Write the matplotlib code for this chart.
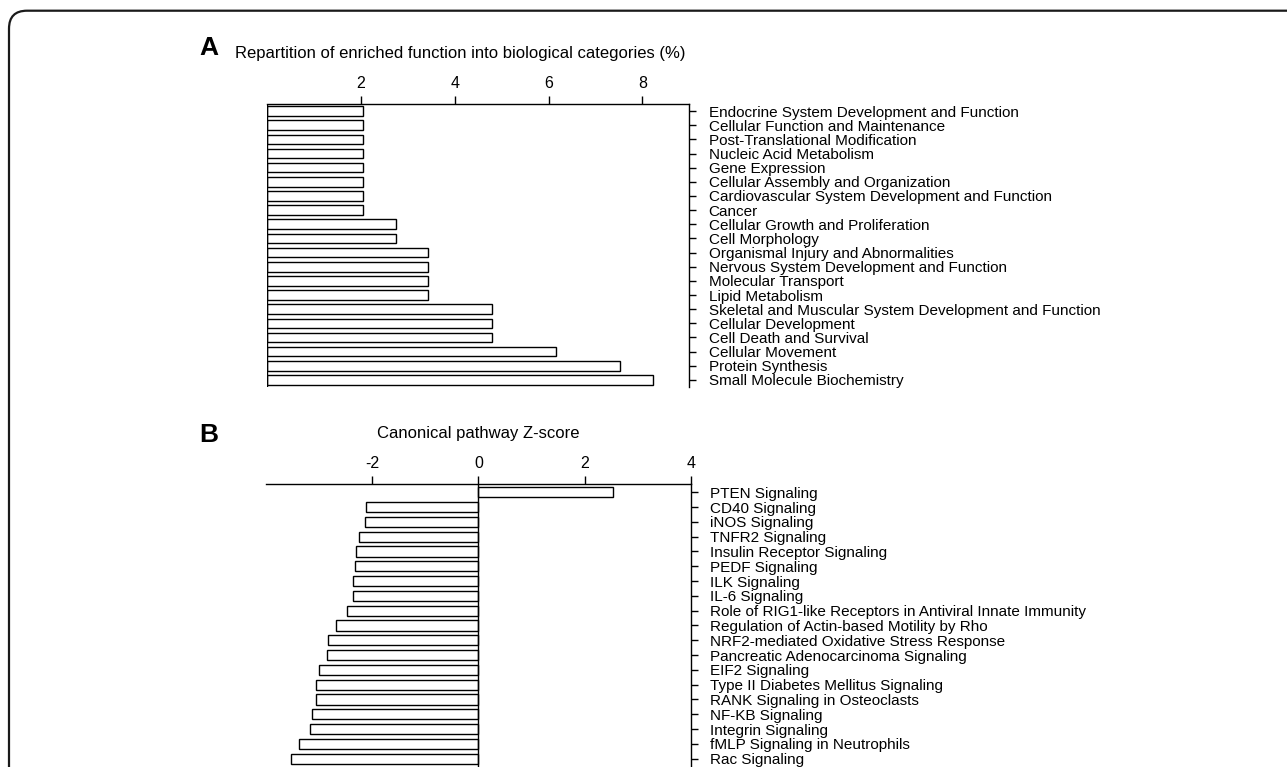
import matplotlib
matplotlib.use('Agg')
import matplotlib.pyplot as plt
from matplotlib.patches import FancyBboxPatch
import numpy as np

plt.rcParams['font.family'] = ['Liberation Sans', 'DejaVu Sans']
plt.rcParams['axes.unicode_minus'] = False

# panel A: share of enriched functions per category (%)
catNames = ['Endocrine System Development and Function',
            'Cellular Function and Maintenance',
            'Post-Translational Modification',
            'Nucleic Acid Metabolism',
            'Gene Expression',
            'Cellular Assembly and Organization',
            'Cardiovascular System Development and Function',
            'Cancer',
            'Cellular Growth and Proliferation',
            'Cell Morphology',
            'Organismal Injury and Abnormalities',
            'Nervous System Development and Function',
            'Molecular Transport',
            'Lipid Metabolism',
            'Skeletal and Muscular System Development and Function',
            'Cellular Development',
            'Cell Death and Survival',
            'Cellular Movement',
            'Protein Synthesis',
            'Small Molecule Biochemistry']
catPct = [2.05, 2.05, 2.05, 2.05, 2.05, 2.05, 2.05, 2.05,
          2.74, 2.74,
          3.42, 3.42, 3.42, 3.42,
          4.79, 4.79, 4.79,
          6.16, 7.53, 8.22]
catTicks = [2, 4, 6, 8]

# panel B: canonical pathway z-scores
pathNames = ['PTEN Signaling',
             'CD40 Signaling',
             'iNOS Signaling',
             'TNFR2 Signaling',
             'Insulin Receptor Signaling',
             'PEDF Signaling',
             'ILK Signaling',
             'IL-6 Signaling',
             'Role of RIG1-like Receptors in Antiviral Innate Immunity',
             'Regulation of Actin-based Motility by Rho',
             'NRF2-mediated Oxidative Stress Response',
             'Pancreatic Adenocarcinoma Signaling',
             'EIF2 Signaling',
             'Type II Diabetes Mellitus Signaling',
             'RANK Signaling in Osteoclasts',
             'NF-KB Signaling',
             'Integrin Signaling',
             'fMLP Signaling in Neutrophils',
             'Rac Signaling']
pathZ = [2.53, -2.12, -2.13, -2.25, -2.31, -2.32, -2.36, -2.37, -2.47,
         -2.69, -2.84, -2.86, -3.01, -3.06, -3.06, -3.14, -3.17, -3.37, -3.52]
pathTicks = [-2, 0, 2, 4]

W, H = 1287, 767
labelsize = 11
ticksize = 11.5
titlesize = 12

def px(l, t, r, b):
    # pixel box -> figure fraction
    return [l/W, 1-b/H, (r-l)/W, (b-t)/H]

def style(ax, names, ticks):
    for s in ['left', 'bottom']:
        ax.spines[s].set_visible(False)
    for s in ['top', 'right']:
        ax.spines[s].set_linewidth(1.0)
    ax.xaxis.tick_top()
    ax.set_xticks(ticks)
    ax.tick_params(axis='x', direction='out', length=6, width=1.0,
                   labelsize=ticksize, pad=3)
    ax.yaxis.tick_right()
    ax.set_yticks(np.arange(len(names)))
    ax.set_yticklabels(names, fontsize=labelsize)
    ax.tick_params(axis='y', direction='out', length=5, width=1.0, pad=9)
    ax.axvline(0, color='k', lw=1.0)

fig = plt.figure(figsize=(W/100, H/100), dpi=100)

# panel A
axA = fig.add_axes(px(267.3, 104, 689.3, 387))
yA = np.arange(len(catNames))
axA.barh(yA, catPct, height=0.68, color='white', edgecolor='k', linewidth=1.0)
axA.set_xlim(0, 9)
axA.set_ylim(len(catNames)-0.5, -0.5)
style(axA, catNames, catTicks)

# panel B (runs off the bottom of the picture)
axB = fig.add_axes(px(266, 484, 690.7, 484+20.06*14.8))
yB = np.arange(len(pathNames))
axB.barh(yB, pathZ, height=0.68, color='white', edgecolor='k', linewidth=1.0)
axB.set_xlim(-4, 4)
axB.set_ylim(19.5, -0.56)
style(axB, pathNames, pathTicks)

fig.text(199/W, 1-55/H, 'A', fontsize=19, fontweight='bold', va='baseline')
fig.text(235/W, 1-58/H, 'Repartition of enriched function into biological categories (%)',
         fontsize=titlesize, va='baseline')
fig.text(199/W, 1-442/H, 'B', fontsize=19, fontweight='bold', va='baseline')
fig.text(478/W, 1-438/H, 'Canonical pathway Z-score', fontsize=titlesize,
         ha='center', va='baseline')

# rounded frame, cut by the picture's right and bottom edges
frame = FancyBboxPatch((0.09, -1.0), 14.0, 7.67-0.107+1.0,
                       boxstyle='round,pad=0,rounding_size=0.18',
                       transform=fig.dpi_scale_trans, fill=False,
                       edgecolor='#1a1a1a', linewidth=1.6)
fig.patches.append(frame)

plt.savefig('out.png', dpi=100)
plt.close('all')
